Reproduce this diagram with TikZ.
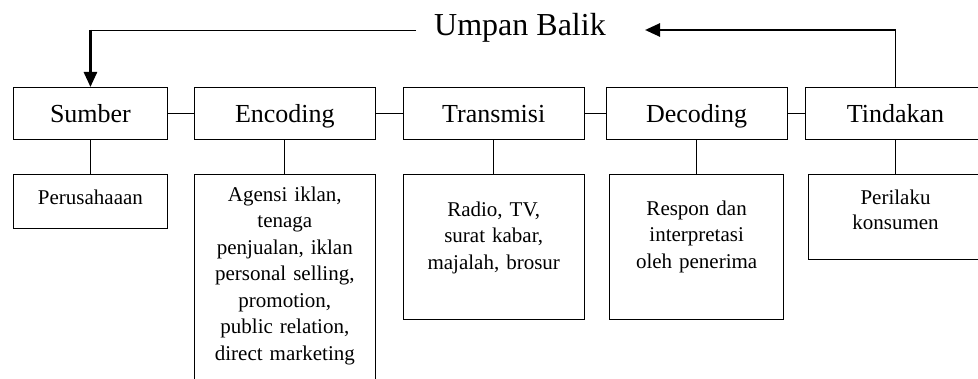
\documentclass[tikz,border=0pt]{standalone}
\usepackage{fontspec}
\setmainfont{Liberation Serif}
\usetikzlibrary{arrows.meta,positioning}

\begin{document}
\begin{tikzpicture}[x=1pt, y=-1pt, >={Triangle[length=15pt,width=13pt]}]
\tikzset{
  box/.style={rectangle, draw, line width=0.9pt, minimum height=52pt, inner sep=0pt, text height=20pt, text depth=2pt, font=\fontsize{26}{30}\selectfont},
  sub/.style={rectangle, draw, line width=0.9pt, align=center, inner sep=4pt, font=\fontsize{21}{26.5}\selectfont},
  link/.style={line width=0.9pt},
  fb/.style={line width=2.6pt}
}
\useasboundingbox (0,0) rectangle (978,379);
\node[box, minimum width=154pt, anchor=north west] (sumber) at (13,87) {Sumber};
\node[box, minimum width=181pt, right=26pt of sumber]    (encoding)  {Encoding};
\node[box, minimum width=181pt, right=27pt of encoding]  (transmisi) {Transmisi};
\node[box, minimum width=181pt, right=21pt of transmisi] (decoding)  {Decoding};
\node[box, minimum width=181pt, right=17pt of decoding]  (tindakan)  {Tindakan};
\node[sub, text width=146pt, text height=26pt, text depth=20pt,  below=34pt of sumber]    (perusahaan) {Perusahaaan};
\node[sub, text width=173pt, text height=23pt, text depth=190pt, below=34pt of encoding]  (agensi) {Agensi iklan,\\ tenaga\\ penjualan, iklan\\ personal selling,\\ promotion,\\ public relation,\\ direct marketing};
\node[sub, text width=173pt, text height=38pt, text depth=99pt,  below=34pt of transmisi] (media)  {Radio, TV,\\ surat kabar,\\ majalah, brosur};
\node[sub, text width=166pt, text height=37pt, text depth=100pt, below=34pt of decoding]  (respon) {Respon dan\\ interpretasi\\ oleh penerima};
\node[sub, text width=166pt, text height=26pt, text depth=51pt,  below=34pt of tindakan]  (perilaku) {Perilaku\\[-1.5pt] konsumen};
\node[font=\fontsize{32}{36}\selectfont, inner sep=0pt] (umpan) at (520,28) {Umpan Balik};
\coordinate (fbline) at (0,30);
\coordinate (fbleft) at (416,30);
\coordinate (fbtip)  at (645,30);
\draw[link] (sumber)--(encoding); \draw[link] (encoding)--(transmisi);
\draw[link] (transmisi)--(decoding); \draw[link] (decoding)--(tindakan);
\draw[link] (sumber)--(perusahaan); \draw[link] (encoding)--(agensi); \draw[link] (transmisi)--(media);
\draw[link] (decoding)--(respon); \draw[link] (tindakan)--(perilaku);
\draw[link] (tindakan.north)--(tindakan.north |- fbline);
\draw[fb,->] (tindakan.north |- fbline)--(fbtip);
\draw[link] (fbleft)--(sumber.north |- fbline);
\draw[fb,->] (sumber.north |- fbline)--(sumber.north);
\end{tikzpicture}
\end{document}
